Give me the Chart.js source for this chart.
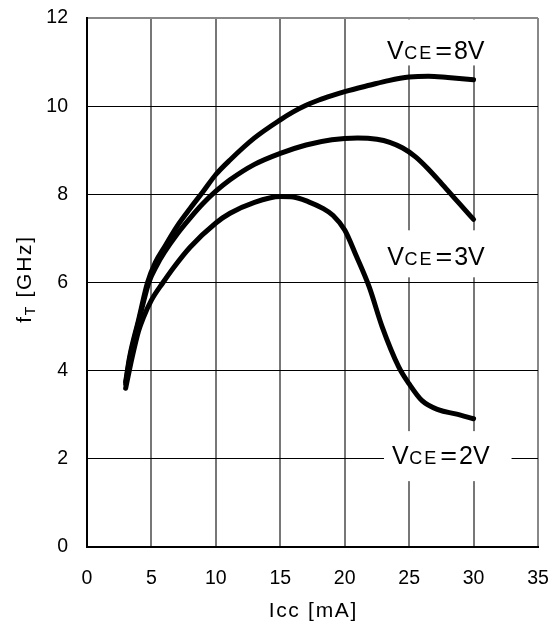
<!DOCTYPE html>
<html><head><meta charset="utf-8">
<script src="https://cdn.jsdelivr.net/npm/chart.js@4/dist/chart.umd.min.js"></script>
<style>html,body{margin:0;padding:0;background:#fff}#wrap{width:554px;height:626px}</style>
</head><body><div id="wrap"><canvas id="c" width="554" height="626"></canvas></div>
<script>
// ---- data ----
const xTicks = [0, 5, 10, 15, 20, 25, 30, 35];
const yTicks = [0, 2, 4, 6, 8, 10, 12];

const icc8 = [3, 3.3, 4, 4.7, 5.3, 6, 7, 8, 9, 10, 11.1, 13, 15, 16, 17, 18, 19, 20, 22, 23.4, 25, 26.5, 28, 30];
const ft8  = [3.75, 4.3, 5.15, 6.0, 6.45, 6.8, 7.28, 7.68, 8.06, 8.45, 8.78, 9.28, 9.69, 9.87, 10.02, 10.14, 10.24, 10.33, 10.48, 10.58, 10.66, 10.68, 10.65, 10.6];

const icc3 = [3, 3.3, 4, 4.8, 5.4, 6, 7, 8, 9, 10, 11.1, 13, 15, 17, 19, 21, 22.5, 23.5, 24.5, 25.5, 26.5, 27.5, 28.5, 29.3, 30];
const ft3  = [3.7, 4.25, 5.1, 6.0, 6.38, 6.68, 7.1, 7.46, 7.79, 8.07, 8.33, 8.68, 8.93, 9.12, 9.24, 9.28, 9.25, 9.18, 9.05, 8.85, 8.57, 8.25, 7.92, 7.66, 7.43];

const icc2 = [3, 3.5, 4, 4.37, 5, 5.9, 6.7, 8, 10, 11.1, 13, 15, 16, 17.2, 18.3, 19.1, 20, 20.9, 21.9, 22.9, 24.2, 25, 26, 27.3, 28.6, 30];
const ft2  = [3.6, 4.3, 4.9, 5.2, 5.6, 6.0, 6.33, 6.8, 7.35, 7.57, 7.82, 7.95, 7.94, 7.83, 7.68, 7.52, 7.19, 6.6, 5.9, 5.0, 4.08, 3.7, 3.32, 3.11, 3.02, 2.91];

const seriesNames = ['8V', '3V', '2V'];

// ---- styling / layout ----
const FONT = "'Liberation Sans', Arial, Helvetica, sans-serif";
const pts = (xs, ys) => xs.map((x, i) => ({x: x, y: ys[i]}));

// label anchors in data coordinates (left of text, baseline)
const labelAnchors = [
  {x: 23.28, y: 11.06, boxTop: 40, boxBot: 6},
  {x: 23.3,  y: 6.39,  boxTop: 35, boxBot: 12},
  {x: 23.67, y: 1.88,  boxTop: 33, boxBot: 17}
];

function lineDs(xs, ys) {
  return {
    data: pts(xs, ys),
    borderColor: '#000', borderWidth: 5,
    borderCapStyle: 'round', borderJoinStyle: 'round',
    pointRadius: 0, fill: false,
    cubicInterpolationMode: 'monotone'
  };
}

const annot = {
  id: 'annot',
  beforeDatasetsDraw(chart) {
    const ctx = chart.ctx, xs = chart.scales.x, ys = chart.scales.y;
    seriesNames.forEach((nm, i) => {
      const a = labelAnchors[i];
      const x0 = xs.getPixelForValue(a.x), base = ys.getPixelForValue(a.y);
      ctx.save();
      ctx.textBaseline = 'alphabetic';
      ctx.textAlign = 'left';
      const big = '25px ' + FONT, small = '18px ' + FONT;
      ctx.font = big; const wV = ctx.measureText('V').width;
      ctx.font = small; ctx.letterSpacing = '2px'; const wCE = ctx.measureText('CE').width;
      ctx.letterSpacing = '0px';
      ctx.font = big; const wEq = ctx.measureText('=').width * 1.15; const wR = ctx.measureText(nm).width;
      const gap1 = 0.5, gap2 = 2, gap3 = 2;
      const total = wV + gap1 + wCE + gap2 + wEq + gap3 + wR;
      ctx.fillStyle = '#fff';
      ctx.fillRect(x0 - 8, base - a.boxTop, total + 30, a.boxTop + a.boxBot);
      ctx.fillStyle = '#000';
      let x = x0;
      ctx.font = big; ctx.fillText('V', x, base); x += wV + gap1;
      ctx.font = small; ctx.letterSpacing = '2px'; ctx.fillText('CE', x, base); x += wCE + gap2;
      ctx.letterSpacing = '0px';
      ctx.font = big;
      ctx.save(); ctx.translate(x, base); ctx.scale(1.15, 1); ctx.fillText('=', 0, 0); ctx.restore();
      x += wEq + gap3;
      ctx.fillText(nm, x, base);
      ctx.restore();
    });
  },
  afterDraw(chart) {
    const ctx = chart.ctx, ca = chart.chartArea;
    ctx.save();
    ctx.fillStyle = '#000';
    ctx.textBaseline = 'alphabetic';
    ctx.font = '21px ' + FONT;
    ctx.letterSpacing = '1.7px';
    const t = 'Icc [mA]';
    const w = ctx.measureText(t).width - 1.7;
    ctx.textAlign = 'left';
    ctx.fillText(t, (ca.left + ca.right) / 2 - w / 2, 617);
    ctx.translate(31, 279);
    ctx.rotate(-Math.PI / 2);
    ctx.font = '21px ' + FONT; const wf = ctx.measureText('f').width;
    ctx.font = '14px ' + FONT; const wT = ctx.measureText('T').width;
    ctx.font = '21px ' + FONT; const wG = ctx.measureText(' [GHz]').width;
    const tot = wf + wT + wG;
    let x = -tot / 2;
    ctx.font = '21px ' + FONT; ctx.fillText('f', x, 0); x += wf;
    ctx.font = '14px ' + FONT; ctx.fillText('T', x, 4); x += wT;
    ctx.font = '21px ' + FONT; ctx.fillText(' [GHz]', x, 0);
    ctx.restore();
  }
};

new Chart(document.getElementById('c'), {
  type: 'line',
  data: { datasets: [lineDs(icc8, ft8), lineDs(icc3, ft3), lineDs(icc2, ft2)] },
  options: {
    responsive: false, animation: false,
    devicePixelRatio: 1,
    layout: { padding: { top: 18, right: 16, left: 0, bottom: 0 } },
    plugins: { legend: { display: false }, tooltip: { enabled: false } },
    scales: {
      x: {
        type: 'linear', min: 0, max: 35,
        afterBuildTicks: s => { s.ticks = xTicks.map(v => ({value: v})); },
        afterFit: s => { s.height = 79; },
        ticks: { color: '#000', font: { family: FONT, size: 19.5 }, padding: 0, maxRotation: 0 },
        grid: {
          drawTicks: true, tickLength: 20, tickColor: 'rgba(0,0,0,0)',
          color: c => c.tick && c.tick.value === 35 ? '#888' : '#777',
          lineWidth: 2
        },
        border: { display: true, color: '#000', width: 2 }
      },
      y: {
        min: 0, max: 12,
        afterBuildTicks: s => { s.ticks = yTicks.map(v => ({value: v})); },
        afterFit: s => { s.width = 87; },
        ticks: { color: '#000', font: { family: FONT, size: 19.5 }, padding: 0 },
        grid: {
          drawTicks: true, tickLength: 19, tickColor: 'rgba(0,0,0,0)',
          color: c => c.tick && c.tick.value === 12 ? '#888' : '#000',
          lineWidth: c => c.tick && c.tick.value === 12 ? 2 : 1
        },
        border: { display: true, color: '#000', width: 2 }
      }
    }
  },
  plugins: [annot]
});
</script>
</body></html>
